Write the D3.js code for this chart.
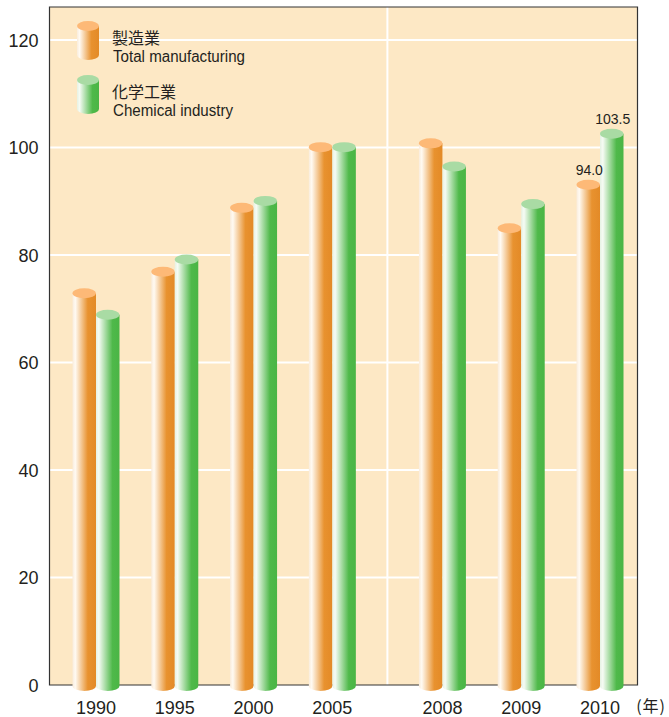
<!DOCTYPE html>
<meta charset="utf-8">
<html>
<head>
<style>
body { margin: 0; background: #fff; }
text { font-family: "Liberation Sans", Arial, sans-serif; fill: #231f20; }
.tick text { font-size: 18px; }
.xlab { font-size: 18px; text-anchor: middle; }
.jp { font-family: "Noto Sans CJK JP", sans-serif; font-size: 16px; }
.en { font-family: "Liberation Sans Narrow", "Liberation Sans", sans-serif; font-size: 16px; }
.val { font-family: "Liberation Sans Narrow", "Liberation Sans", sans-serif; font-size: 14px; text-anchor: middle; }
</style>
<script src="https://d3js.org/d3.v7.min.js"></script>
</head>
<body>
<svg width="669" height="717"></svg>
<script>
// data
var years = ["1990", "1995", "2000", "2005", "2008", "2009", "2010"];
var manufacturing = [73.8, 77.8, 89.7, 101.0, 101.7, 85.9, 94.0];
var chemical = [69.8, 80.1, 91.0, 101.0, 97.4, 90.4, 103.5];
var yTicks = [0, 20, 40, 60, 80, 100, 120];
var seriesJa = ["製造業", "化学工業"];
var seriesEn = ["Total manufacturing", "Chemical industry"];
var labelledYear = "2010";
var breakAfter = "2005";

var svg = d3.select("svg");

var plotL = 49.5, plotR = 637.5, plotT = 7, plotB = 685;
var barW = 23.5, ry = 5, gap = 31.3;

var y = d3.scaleLinear().domain([0, 120]).range([plotB, 40]);
var xp = d3.scalePoint().domain(years).range([96, 600 - gap]);
var breakIdx = years.indexOf(breakAfter);
function xPos(yr) {
  return xp(yr) + (years.indexOf(yr) > breakIdx ? gap : 0);
}

// gradients
var defs = svg.append("defs");
function grad(id, stops) {
  var g = defs.append("linearGradient").attr("id", id)
    .attr("x1", 0).attr("x2", 1).attr("y1", 0).attr("y2", 0);
  stops.forEach(function(s) {
    g.append("stop").attr("offset", s[0]).attr("stop-color", s[1]);
  });
}
grad("gOrange", [[0, "#f9ecdc"], [0.12, "#fffaf2"], [0.65, "#e8922f"], [1, "#e38a27"]]);
grad("gGreen", [[0, "#e6f2e3"], [0.12, "#f6fbf4"], [0.7, "#4fb94a"], [1, "#4ab545"]]);
var topColor = ["#fdb977", "#a9dba4"];
var bodyFill = ["url(#gOrange)", "url(#gGreen)"];

// plot background
svg.append("rect")
  .attr("x", plotL).attr("y", plotT)
  .attr("width", plotR - plotL).attr("height", plotB - plotT)
  .attr("fill", "#fde8c5");

// grid
svg.selectAll(".grid")
  .data(yTicks.filter(function(d) { return d > 0; }))
  .enter().append("line")
    .attr("x1", plotL).attr("x2", plotR)
    .attr("y1", function(d) { return y(d); })
    .attr("y2", function(d) { return y(d); })
    .attr("stroke", "#fff").attr("stroke-width", 2);

var sepX = (xPos(years[breakIdx]) + xPos(years[breakIdx + 1])) / 2;
svg.append("line")
  .attr("x1", sepX).attr("x2", sepX)
  .attr("y1", plotT).attr("y2", plotB)
  .attr("stroke", "#fff").attr("stroke-width", 2);

// frame
svg.append("path")
  .attr("d", "M" + plotL + "," + plotB + "V" + plotT + "H" + plotR + "V" + plotB + "Z")
  .attr("fill", "none").attr("stroke", "#333").attr("stroke-width", 1.2);

// y axis
var yAxis = svg.append("g")
  .attr("transform", "translate(" + plotL + ",0)")
  .call(d3.axisLeft(y).tickValues(yTicks).tickSize(0).tickPadding(11));
yAxis.select(".domain").remove();
yAxis.selectAll("text").attr("dy", "0.36em").style("fill", "#231f20");

// cylinder
function cylinder(g, x0, yTop, yBot, w, s) {
  var rx = w / 2, cy = yTop + ry;
  g.append("path")
    .attr("d", "M" + x0 + "," + cy + "V" + yBot +
      "A" + rx + "," + ry + " 0 0 0 " + (x0 + w) + "," + yBot +
      "V" + cy + "Z")
    .attr("fill", bodyFill[s]);
  g.append("ellipse")
    .attr("cx", x0 + rx).attr("cy", cy)
    .attr("rx", rx).attr("ry", ry)
    .attr("fill", topColor[s]);
}

var series = [manufacturing, chemical];
var bars = svg.append("g");
var labels = svg.append("g");
years.forEach(function(yr, i) {
  series.forEach(function(vals, s) {
    var x0 = xPos(yr) - barW + s * barW;
    cylinder(bars, x0, y(vals[i]), plotB + 1, barW, s);
    if (yr === labelledYear) {
      labels.append("text").attr("class", "val")
        .attr("x", x0 + barW / 2 + 1)
        .attr("y", y(vals[i]) - 5)
        .text(vals[i].toFixed(1));
    }
  });
});

// x labels
svg.selectAll(".xlab")
  .data(years)
  .enter().append("text")
    .attr("class", "xlab")
    .attr("x", function(d) { return xPos(d); })
    .attr("y", 714)
    .text(function(d) { return d; });

svg.append("text").attr("class", "jp")
  .attr("x", 666).attr("y", 712)
  .attr("text-anchor", "end")
  .style("letter-spacing", "1px")
  .text("(年)");

// legend
var legend = svg.append("g");
seriesJa.forEach(function(name, s) {
  var ly = 21 + s * 54;
  cylinder(legend, 77, ly, ly + 34, 22, s);
  legend.append("text").attr("class", "jp")
    .attr("x", 112).attr("y", ly + 23)
    .text(name);
  legend.append("text").attr("class", "en")
    .attr("x", 113).attr("y", ly + 41)
    .attr("textLength", s === 0 ? 132 : 120)
    .attr("lengthAdjust", "spacingAndGlyphs")
    .text(seriesEn[s]);
});
</script>
</body>
</html>
